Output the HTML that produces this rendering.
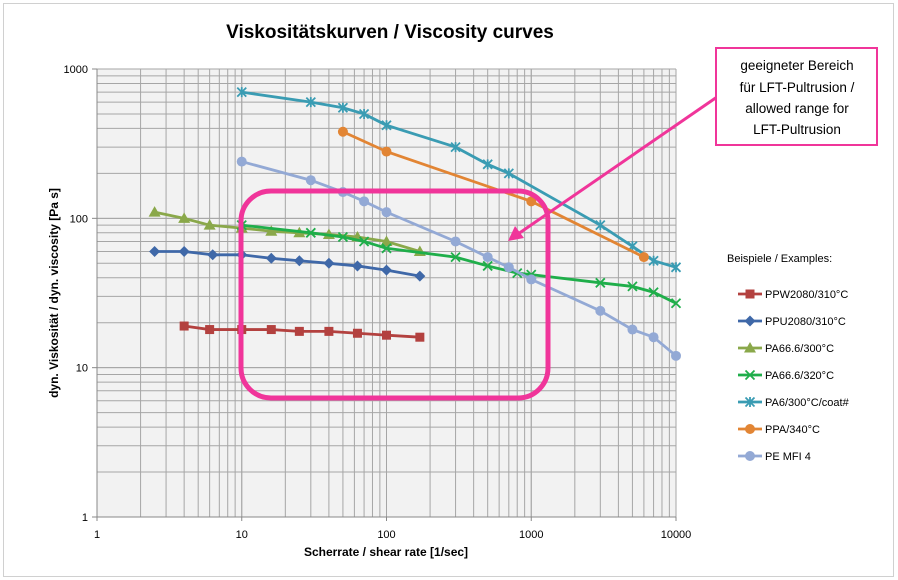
<!DOCTYPE html><html><head><meta charset="utf-8"><style>body{margin:0;background:#fff}svg{display:block;font-family:"Liberation Sans",sans-serif}</style></head><body>
<svg id="s" width="898" height="580" xmlns="http://www.w3.org/2000/svg">
<rect x="3.5" y="3.5" width="890" height="573" fill="#fff" stroke="#d0d0d0"/>
<text x="390" y="38" font-size="19" font-weight="bold" text-anchor="middle">Viskositätskurven / Viscosity curves</text>
<rect x="97" y="69" width="579" height="448" fill="#f2f2f2"/>
<g id="grid"></g>
<g id="series"></g>
<rect x="241" y="191" width="307" height="207" rx="30" fill="none" stroke="#f0359a" stroke-width="5"/>
<line x1="717" y1="97" x2="518" y2="234" stroke="#f0359a" stroke-width="3"/>
<polygon points="508,241 515,226 524,238" fill="#f0359a"/>
<rect x="716" y="48" width="161" height="97" fill="#fff" stroke="#f0359a" stroke-width="2"/>
<g font-size="13.5" text-anchor="middle"><text x="797" y="70">geeigneter Bereich</text><text x="797" y="92">für LFT-Pultrusion /</text><text x="797" y="113">allowed range for</text><text x="797" y="134">LFT-Pultrusion</text></g>
<text x="386" y="556" font-size="12" font-weight="bold" text-anchor="middle">Scherrate / shear rate [1/sec]</text>
<text transform="translate(58,293) rotate(-90)" font-size="12" font-weight="bold" text-anchor="middle">dyn. Viskosität / dyn. viscosity [Pa s]</text>
<text x="727" y="262" font-size="11">Beispiele / Examples:</text>
<g id="legend"></g>
</svg>
<script>
const X=v=>97+144.75*Math.log10(v),Y=v=>517-149.33*Math.log10(v);
let g='';
for(let d=0;d<4;d++)for(let k=1;k<=10;k++){const v=k*10**d;if(v>10000)break;const x=X(v);g+=`<line x1="${x}" y1="69" x2="${x}" y2="517" stroke="#a6a6a6" stroke-width="1"/>`}
for(let d=0;d<3;d++)for(let k=1;k<=10;k++){const v=k*10**d;const y=Y(v);g+=`<line x1="97" y1="${y}" x2="676" y2="${y}" stroke="#a6a6a6" stroke-width="1"/>`}
g+=`<line x1="97" y1="69" x2="97" y2="517" stroke="#888"/><line x1="97" y1="517" x2="676" y2="517" stroke="#888"/>`;
[1,10,100,1000,10000].forEach(v=>g+=`<text x="${X(v)}" y="538" font-size="11" text-anchor="middle">${v}</text><line x1="${X(v)}" y1="517" x2="${X(v)}" y2="521" stroke="#888"/>`);
[1,10,100,1000].forEach(v=>g+=`<text x="88" y="${Y(v)+4}" font-size="11" text-anchor="end">${v}</text><line x1="92" y1="${Y(v)}" x2="97" y2="${Y(v)}" stroke="#888"/>`);
document.getElementById('grid').innerHTML=g;
const S=[
["PPW2080/310°C","#b3413f","sq",[[4,19],[6,18],[10,18],[16,18],[25,17.5],[40,17.5],[63,17],[100,16.5],[170,16]]],
["PPU2080/310°C","#3f68a8","di",[[2.5,60],[4,60],[6.3,57],[10,57],[16,54],[25,52],[40,50],[63,48],[100,45],[170,41]]],
["PA66.6/300°C","#8aa84a","tr",[[2.5,110],[4,100],[6,90],[10,86],[16,82],[25,80],[40,78],[63,75],[100,70],[170,60]]],
["PA66.6/320°C","#1fae4a","x",[[10,90],[30,80],[50,75],[70,70],[100,63],[300,55],[500,48],[800,43],[1000,42],[3000,37],[5000,35],[7000,32],[10000,27]]],
["PA6/300°C/coat#","#3a9cb3","st",[[10,700],[30,600],[50,550],[70,500],[100,420],[300,300],[500,230],[700,200],[3000,90],[5000,65],[7000,52],[10000,47]]],
["PPA/340°C","#e28534","ci",[[50,380],[100,280],[1000,130],[6000,55]]],
["PE MFI 4","#93a9d5","ci",[[10,240],[30,180],[50,150],[70,130],[100,110],[300,70],[500,55],[700,47],[1000,39],[3000,24],[5000,18],[7000,16],[10000,12]]]];
function mk(t,x,y,c){switch(t){case'sq':return`<rect x="${x-4.5}" y="${y-4.5}" width="9" height="9" fill="${c}"/>`;
case'di':return`<polygon points="${x},${y-5.5} ${x+5.5},${y} ${x},${y+5.5} ${x-5.5},${y}" fill="${c}"/>`;
case'tr':return`<polygon points="${x},${y-6} ${x+6},${y+4.5} ${x-6},${y+4.5}" fill="${c}"/>`;
case'x':return`<path d="M${x-4.5} ${y-4.5}L${x+4.5} ${y+4.5}M${x+4.5} ${y-4.5}L${x-4.5} ${y+4.5}" stroke="${c}" stroke-width="1.8"/>`;
case'st':return`<path d="M${x-4.5} ${y-4.5}L${x+4.5} ${y+4.5}M${x+4.5} ${y-4.5}L${x-4.5} ${y+4.5}M${x} ${y-5}L${x} ${y+5}" stroke="${c}" stroke-width="1.8"/>`;
default:return`<circle cx="${x}" cy="${y}" r="5" fill="${c}"/>`}}
let s='',l='';
S.forEach((a,i)=>{const p=a[3].map(q=>[X(q[0]),Y(q[1])]);s+=`<polyline points="${p.map(q=>q.join(',')).join(' ')}" fill="none" stroke="${a[1]}" stroke-width="2.8"/>`;p.forEach(q=>s+=mk(a[2],q[0],q[1],a[1]));
const y=294+i*27;l+=`<line x1="738" y1="${y}" x2="762" y2="${y}" stroke="${a[1]}" stroke-width="2.8"/>`+mk(a[2],750,y,a[1])+`<text x="765" y="${y+4}" font-size="11">${a[0]}</text>`});
document.getElementById('series').innerHTML=s;document.getElementById('legend').innerHTML=l;
</script></body></html>
